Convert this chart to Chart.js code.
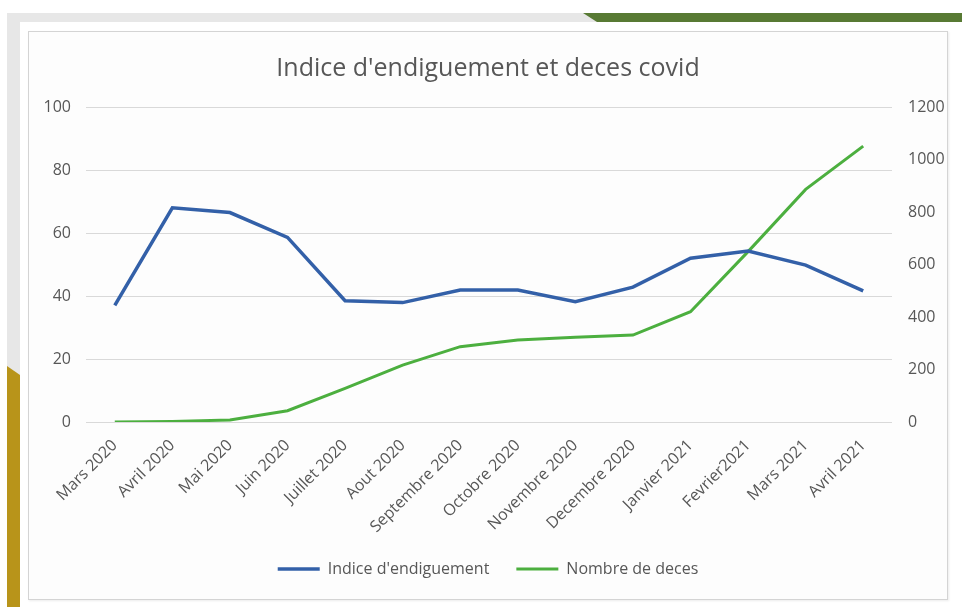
<!DOCTYPE html>
<html lang="fr">
<head>
<meta charset="utf-8">
<title>Indice d'endiguement et deces covid</title>
<script src="https://cdn.jsdelivr.net/npm/chart.js@4/dist/chart.umd.min.js"></script>
<style>
  html, body { margin: 0; padding: 0; background: #fff; }
  body { width: 962px; height: 607px; position: relative; overflow: hidden; }
  .band { position: absolute; left: 7px; top: 13px; right: 0; bottom: 0; background: #e7e7e7; }
  .green-bar { position: absolute; left: 583px; top: 13px; right: 0; height: 9px; background: #587a34;
    clip-path: polygon(0 0, 100% 0, 100% 100%, 14px 100%); }
  .gold-bar { position: absolute; left: 7px; top: 366px; width: 13px; bottom: 0; background: #b8941a;
    clip-path: polygon(0 0, 100% 9px, 100% 100%, 0 100%); }
  .sheet { position: absolute; left: 20px; top: 22px; right: 0; bottom: 0; background: #fff; }
  .frame { position: absolute; left: 28px; top: 31px; width: 920px; height: 569px;
    border: 1px solid #d4d4d4; box-sizing: border-box; background: #fdfdfd;
    box-shadow: 1px 1px 2px rgba(0,0,0,0.08); }
  #chart { position: absolute; left: 28px; top: 31px; }
</style>
</head>
<body>
<div class="band"></div>
<div class="green-bar"></div>
<div class="gold-bar"></div>
<div class="sheet"></div>
<div class="frame"></div>
<canvas id="chart" width="920" height="569"></canvas>
<script>
const months = [
  'Mars 2020', 'Avril 2020', 'Mai 2020', 'Juin 2020', 'Juillet 2020', 'Aout 2020',
  'Septembre 2020', 'Octobre 2020', 'Novembre 2020', 'Decembre 2020',
  'Janvier 2021', 'Fevrier2021', 'Mars 2021', 'Avril 2021'
];
const indiceEndiguement = [37, 68, 66.5, 58.6, 38.5, 37.9, 41.9, 41.9, 38.2, 42.8, 52, 54.3, 49.8, 41.6];
const nombreDeces = [0, 2, 8, 43, 128, 217, 287, 312, 323, 331, 420, 649, 886, 1051];
const leftTicks = [0, 20, 40, 60, 80, 100];
const rightTicks = [0, 200, 400, 600, 800, 1000, 1200];

const FONT = "'Open Sans', 'Noto Sans', sans-serif";
const GREY = '#575757';

// fixed scale sizes keep the plot area where the layout needs it
const fixWidth = w => scale => { scale.width = w; };
const fixHeight = h => scale => { scale.height = h; };

new Chart(document.getElementById('chart'), {
  type: 'line',
  data: {
    labels: months,
    datasets: [
      {
        label: "Indice d'endiguement",
        data: indiceEndiguement,
        yAxisID: 'y',
        borderColor: '#3360a8',
        backgroundColor: '#3360a8',
        borderWidth: 3.5,
        pointRadius: 0,
        pointStyle: 'line',
        tension: 0
      },
      {
        label: 'Nombre de deces',
        data: nombreDeces,
        yAxisID: 'y1',
        borderColor: '#4caf3f',
        backgroundColor: '#4caf3f',
        borderWidth: 3,
        pointRadius: 0,
        pointStyle: 'line',
        tension: 0
      }
    ]
  },
  options: {
    responsive: false,
    animation: false,
    layout: { padding: { top: 0, left: 0, right: 0, bottom: 13 } },
    plugins: {
      title: {
        display: true,
        text: "Indice d'endiguement et deces covid",
        color: GREY,
        font: { family: FONT, size: 25, weight: 'normal' },
        padding: { top: 23, bottom: 23 }
      },
      legend: {
        position: 'bottom',
        labels: {
          color: GREY,
          font: { family: FONT, size: 16 },
          usePointStyle: true,
          pointStyleWidth: 42,
          padding: 27
        }
      },
      tooltip: { enabled: false }
    },
    scales: {
      x: {
        offset: true,
        grid: { display: false },
        border: { display: false },
        ticks: {
          color: GREY,
          font: { family: FONT, size: 16 },
          minRotation: 45,
          maxRotation: 45,
          padding: 6,
          autoSkip: false
        },
        afterFit: fixHeight(112)
      },
      y: {
        position: 'left',
        min: 0,
        max: 100,
        afterBuildTicks: scale => { scale.ticks = leftTicks.map(v => ({ value: v })); },
        grid: { color: '#d9d9d9', lineWidth: 1, drawTicks: false },
        border: { display: false },
        ticks: { color: GREY, font: { family: FONT, size: 16 }, padding: 15 },
        afterFit: fixWidth(58)
      },
      y1: {
        position: 'right',
        min: 0,
        max: 1200,
        afterBuildTicks: scale => { scale.ticks = rightTicks.map(v => ({ value: v })); },
        grid: { display: false, drawTicks: false },
        border: { display: false },
        ticks: {
          color: GREY,
          font: { family: FONT, size: 16 },
          padding: 16,
          callback: v => String(v)
        },
        afterFit: fixWidth(56)
      }
    }
  }
});
</script>
</body>
</html>
